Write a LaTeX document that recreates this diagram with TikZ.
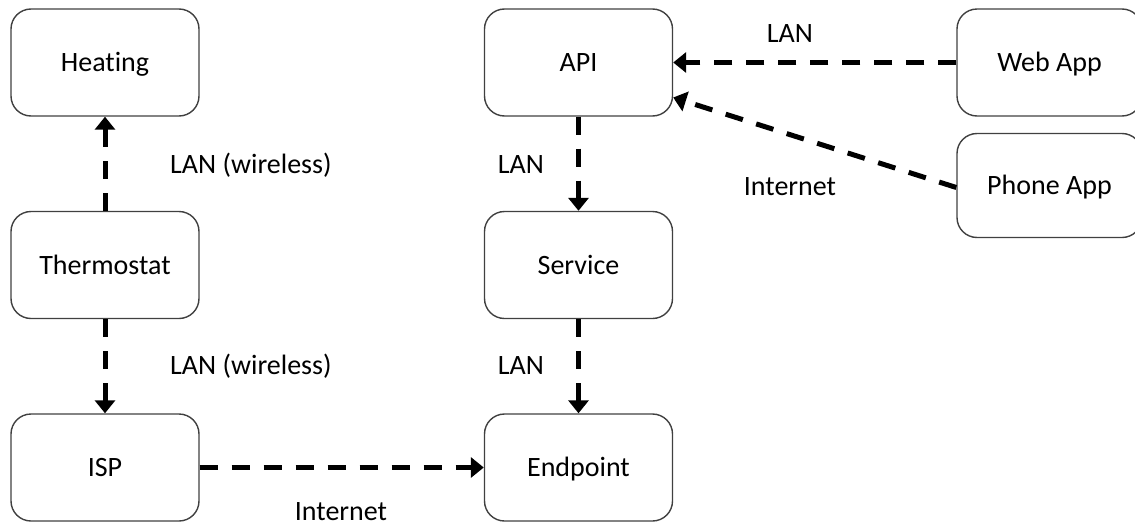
\documentclass[tikz,border=0pt]{standalone}
\usepackage{fontspec}
\setmainfont{Carlito}[Ligatures={NoCommon}]
\usetikzlibrary{arrows.meta}
\begin{document}
\begin{tikzpicture}[x=1pt,y=-1pt,
  box/.style={draw=black!75,line width=1.4pt,rounded corners=20pt,minimum width=188pt,minimum height=107pt,inner sep=0pt,align=center,text height=18pt,text depth=0pt,font=\fontsize{28}{33}\selectfont},
  conn/.style={line width=5pt,dash pattern=on 18pt off 14pt,-{Triangle[length=13pt,width=20pt]}},
  lbl/.style={anchor=base,inner sep=0pt,font=\fontsize{28}{33}\selectfont}]
\useasboundingbox (0,0) rectangle (1135,525);
\clip (0,0) rectangle (1135,525);
\node[box] (heat) at (105,62.5) {Heating};
\node[box] (thermo) at (105,265) {Thermostat};
\node[box] (isp) at (105,467.5) {ISP};
\node[box] (api) at (578.5,62.5) {API};
\node[box] (svc) at (578.5,265) {Service};
\node[box] (end) at (578.5,467.5) {Endpoint};
\node[box,minimum width=185pt] (web) at (1049.5,62.5) {Web App};
\node[box,minimum width=185pt,minimum height=104pt] (phone) at (1049.5,185.5) {Phone App};
\coordinate (apiin) at ([yshift=-35pt]api.east);
\draw[conn] (thermo) -- (heat);
\draw[conn] (thermo) -- (isp);
\draw[conn] (isp) -- (end);
\draw[conn] (api) -- (svc);
\draw[conn] (svc) -- (end);
\draw[conn] (web) -- (api);
\draw[conn] ([yshift=-2pt]phone.west) -- (apiin);
\node[lbl,anchor=base west] (l1) at (170,173) {LAN (wireless)};
\node[lbl,anchor=base west] (l2) at (170,374) {LAN (wireless)};
\node[lbl] (l3) at (341,520) {Internet};
\node[lbl] (l4) at (521,173) {LAN};
\node[lbl] (l5) at (521,374) {LAN};
\node[lbl] (l6) at (790,42) {LAN};
\node[lbl] (l7) at (790,195) {Internet};
\end{tikzpicture}
\end{document}
